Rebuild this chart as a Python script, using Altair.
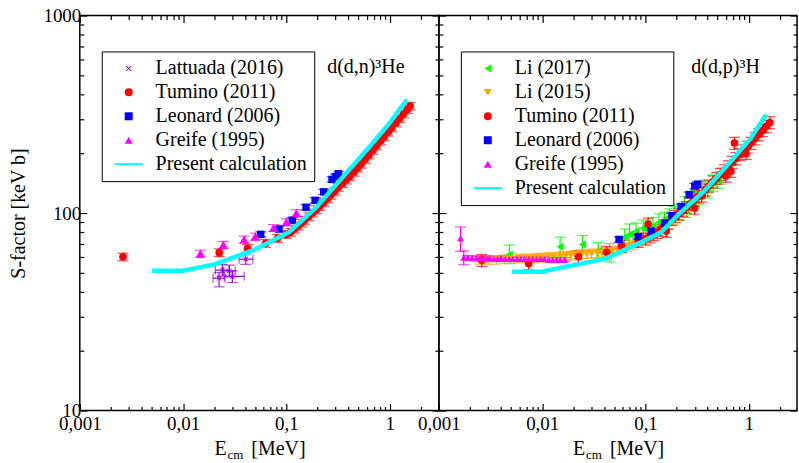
import altair as alt
import pandas as pd

# ---------------- Left panel: d(d,n)3He ----------------
lat_x = [0.0223, 0.024, 0.028, 0.030, 0.0405]
lat_y = [46.8, 51.4, 50.9, 47.8, 58.4]
lat_xlo = [0.0195, 0.0205, 0.0245, 0.0250, 0.0348]
lat_xhi = [0.0255, 0.0280, 0.0320, 0.0390, 0.0475]
lat_ylo = [42.3, 48.0, 47.5, 44.5, 55.0]
lat_yhi = [50.0, 55.0, 54.5, 51.0, 62.0]

tum_l_x = [0.00262, 0.0224, 0.042, 0.063, 0.082, 0.10, 0.11, 0.12, 0.13, 0.14, 0.15, 0.165, 0.18,
           0.195, 0.21, 0.23, 0.25, 0.27, 0.295, 0.32, 0.35, 0.38, 0.41, 0.45, 0.49, 0.53, 0.58,
           0.63, 0.69, 0.75, 0.82, 0.89, 0.97, 1.05, 1.15, 1.25, 1.36, 1.48, 1.58]
tum_l_y = [60, 63, 66.3, 70.3, 74.5, 78, 80, 83, 86, 89, 92, 96, 100,
           104, 108, 113, 118, 123, 129, 135, 141, 147, 153, 161, 169, 177, 187,
           197, 208, 219, 232, 244, 257, 270, 286, 301, 317, 334, 348]
tum_l_err = 0.045

leo_l_x = [0.0565, 0.085, 0.114, 0.155, 0.19, 0.23, 0.277, 0.30, 0.32]
leo_l_y = [78, 83, 92, 107, 116, 128, 148, 153, 158]
leo_l_err = 0.03

gre_l_x = [0.0147, 0.0245, 0.039, 0.05, 0.075, 0.1, 0.125]
gre_l_y = [62.3, 69, 73.5, 76, 84, 90, 100]
gre_l_err = 0.04

calc_l_x = [0.005, 0.01, 0.02, 0.047, 0.106, 0.192, 0.346, 0.626, 0.975, 1.47]
calc_l_y = [51, 51, 55, 64.5, 80, 106, 151, 214, 281, 375]

# ---------------- Right panel: d(d,p)3H ----------------
li17_x = [0.0048, 0.0149, 0.0245, 0.0349, 0.045, 0.063, 0.07, 0.081, 0.095, 0.118, 0.135, 0.153,
          0.17, 0.19, 0.21, 0.24, 0.25, 0.28, 0.30, 0.33, 0.37, 0.40, 0.45, 0.50, 0.54]
li17_y = [61.6, 67.6, 69.4, 64.4, 63, 75, 78, 81, 84, 86, 90, 92,
          96, 98.5, 101, 110, 104, 116, 119, 122, 134, 131, 142, 146, 154]
li17_ylo = [55.4, 60.5, 62, 58, 56.5, 68, 69, 73, 76, 78, 82, 84,
            87, 90, 92, 100, 95, 106, 108, 111, 122, 119, 129, 133, 140]
li17_yhi = [68.9, 75.5, 77, 71, 70, 83, 88, 89, 92, 95, 99, 101,
            105, 108, 110, 121, 114, 127, 130, 134, 147, 144, 156, 160, 169]

li15_x = [0.0025, 0.003, 0.0036, 0.0043, 0.005, 0.006, 0.007, 0.008, 0.009, 0.010,
          0.0115, 0.013, 0.015, 0.017, 0.019, 0.021, 0.024, 0.027, 0.030, 0.034,
          0.038, 0.043, 0.048, 0.054, 0.06, 0.067, 0.075, 0.084, 0.094, 0.105,
          0.118, 0.132, 0.148, 0.165, 0.185, 0.21, 0.235, 0.265, 0.3]
li15_y = [58, 58, 58, 58.5, 58.5, 59, 59, 59, 59.5, 59.5,
          60, 60, 60.5, 61, 61, 61.5, 62, 62, 62.5, 62.5,
          63, 63.5, 64, 65, 66, 67.5, 69, 71, 73, 75.5,
          78, 81, 84.5, 88, 92, 97, 102, 108, 115]
li15_err = 0.05

tum_r_x = [0.0026, 0.0074, 0.0224, 0.042, 0.0585, 0.085, 0.10, 0.106, 0.11, 0.12,
           0.13, 0.14, 0.15, 0.159, 0.165, 0.18, 0.195, 0.21, 0.23, 0.25,
           0.27, 0.295, 0.299, 0.32, 0.35, 0.38, 0.41, 0.45, 0.49, 0.53,
           0.58, 0.60, 0.63, 0.67, 0.69, 0.726, 0.75, 0.82, 0.89, 0.94,
           0.97, 1.05, 1.15, 1.25, 1.36, 1.48, 1.6]
tum_r_y = [57.7, 55.5, 60, 63.3, 68, 72, 74, 88, 76, 78,
           80, 82, 85, 81, 89, 93, 96, 99, 103, 107,
           111, 116, 106, 121, 122, 131, 137, 144, 150, 157,
           164, 154, 172, 163, 181, 226, 189, 198, 207, 201,
           216, 226, 238, 250, 262, 275, 287]
tum_r_err = 0.07

leo_r_x = [0.0555, 0.085, 0.114, 0.153, 0.18, 0.222, 0.265, 0.30, 0.32]
leo_r_y = [73.5, 76, 81, 89, 97, 108, 124, 137, 140]
leo_r_err = 0.03

gre_r_x = [0.00162, 0.00174, 0.0019, 0.0021, 0.0023, 0.0025, 0.0027, 0.0029, 0.0031, 0.0034,
           0.0037, 0.004, 0.0044, 0.0048, 0.0052, 0.0057, 0.0062, 0.0068, 0.0074, 0.0081,
           0.0088, 0.0096, 0.0105, 0.0115, 0.0126, 0.0138, 0.015, 0.0165]
gre_r_y = [74.5, 59.5, 59.5, 59, 59, 59, 58.5, 59, 59, 58.5,
           58.5, 59, 58.5, 58.5, 58.5, 58.5, 58.5, 58.5, 58.5, 58.5,
           58.5, 58.5, 58.5, 58, 58, 58, 58, 58]
gre_r_err = [0.14, 0.08] + [0.025] * 26

calc_r_x = [0.0051, 0.0099, 0.02, 0.04, 0.085, 0.142, 0.206, 0.37, 0.67, 1.05, 1.47]
calc_r_y = [50.5, 50.5, 54.5, 58.5, 70, 80, 98, 129, 183, 240, 315]

left_label = "d(d,n)³He"
right_label = "d(d,p)³H"
xtitle_parts = ["E", "cm", "[MeV]"]
ytitle = "S-factor [keV b]"

left_order = ["Lattuada (2016)", "Tumino (2011)", "Leonard (2006)", "Greife (1995)", "Present calculation"]
right_order = ["Li (2017)", "Li (2015)", "Tumino (2011)", "Leonard (2006)", "Greife (1995)", "Present calculation"]

# ---------------- styles ----------------
FONT = "Liberation Serif"
PURPLE, RED, BLUE, MAGENTA = "#9400d3", "#ff0000", "#0000ff", "#ff00ff"
GREEN, ORANGE, CYAN = "#00ff00", "#ffa500", "#00ffff"
X_PATH = ("M-0.7,-0.55L-0.55,-0.7L0,-0.15L0.55,-0.7L0.7,-0.55L0.15,0L0.7,0.55L0.55,0.7"
          "L0,0.15L-0.55,0.7L-0.7,0.55L-0.15,0Z")
LINE_PATH = "M-3.5,-0.25L3.5,-0.25L3.5,0.25L-3.5,0.25Z"

MAJ = "abs(log(datum.value)/LN10 - round(log(datum.value)/LN10)) < 0.001"
TICK = {"expr": f"({MAJ}) ? -7 : -4"}
XLAB = f"({MAJ}) ? replace(format(datum.value, '~g'), '.', ',') : ''"
YLAB = f"({MAJ}) ? format(datum.value, 'd') : ''"

xt_left = [m * 10.0 ** e for e in (-3, -2, -1) for m in range(1, 10)] + [1.0, 2.0]
xt_right = list(xt_left)
yt = [m * 10.0 ** e for e in (1, 2) for m in range(1, 10)] + [1000.0]

H = 396


def frame(name, xs, ys, rel=None, lo=None, hi=None):
    if rel is not None:
        rels = rel if isinstance(rel, list) else [rel] * len(xs)
        lo = [y * (1 - r) for y, r in zip(ys, rels)]
        hi = [y * (1 + r) for y, r in zip(ys, rels)]
    return pd.DataFrame({"series": name, "x": xs, "y": ys, "ylo": lo, "yhi": hi})


def build_panel(frames, order, colors, shapes, sizes, calc_x, calc_y, xmax, width,
                label_text, label_x, show_y, xt, xerr=None):
    xs = alt.Scale(type="log", domain=[0.001, xmax], nice=False)
    ys = alt.Scale(type="log", domain=[10, 1000], nice=False)
    cs = alt.Scale(domain=order, range=colors)
    ss = alt.Scale(domain=order, range=shapes)
    cmap = dict(zip(order, colors))

    layers = []
    for f in frames:
        c = cmap[f["series"].iloc[0]]
        layers.append(alt.Chart(f).mark_rule(strokeWidth=1.2, color=c).encode(
            x=alt.X("x:Q", scale=xs, axis=None), y=alt.Y("ylo:Q", scale=ys, axis=None),
            y2="yhi:Q"))
        layers.append(alt.Chart(f).transform_fold(["ylo", "yhi"], as_=["k", "yv"]).mark_tick(
            orient="horizontal", size=11, thickness=1.2, color=c).encode(
            x=alt.X("x:Q", scale=xs, axis=None), y=alt.Y("yv:Q", scale=ys, axis=None)))
    if xerr is not None:
        c = cmap[xerr["series"].iloc[0]]
        layers.append(alt.Chart(xerr).mark_rule(strokeWidth=1.2, color=c).encode(
            x=alt.X("xlo:Q", scale=xs, axis=None), x2="xhi:Q",
            y=alt.Y("y:Q", scale=ys, axis=None)))
        layers.append(alt.Chart(xerr).transform_fold(["xlo", "xhi"], as_=["k", "xv"]).mark_tick(
            orient="vertical", size=9, thickness=1.2, color=c).encode(
            x=alt.X("xv:Q", scale=xs, axis=None), y=alt.Y("y:Q", scale=ys, axis=None)))

    leg = alt.Legend(orient="none", legendX=22, legendY=36, title=None)
    ax_bottom = alt.Axis(orient="bottom", values=xt, labelExpr=XLAB, tickSize=TICK,
                         labelPadding=11, title=None)
    ax_top = alt.Axis(orient="top", values=xt, labels=False, tickSize=TICK, title=None)
    ax_left = alt.Axis(orient="left", values=yt, labelExpr=YLAB, labels=show_y, tickSize=TICK,
                       labelPadding=6, title=ytitle if show_y else None, titlePadding=14)
    ax_right = alt.Axis(orient="right", values=yt, labels=False, tickSize=TICK, title=None)

    for i, f in enumerate(frames):
        name = f["series"].iloc[0]
        first = i == 0
        layers.append(alt.Chart(f).mark_point(filled=True, opacity=1, size=sizes[name]).encode(
            x=alt.X("x:Q", scale=xs, axis=ax_bottom if first else None),
            y=alt.Y("y:Q", scale=ys, axis=ax_left if first else None),
            color=alt.Color("series:N", scale=cs, legend=leg),
            shape=alt.Shape("series:N", scale=ss, legend=leg)))

    calc_df = pd.DataFrame({"x": calc_x, "y": calc_y})
    layers.append(alt.Chart(calc_df).mark_line(color=CYAN, strokeWidth=4.5).encode(
        x=alt.X("x:Q", scale=xs, axis=ax_top), y=alt.Y("y:Q", scale=ys, axis=ax_right)))

    layers.append(alt.Chart(pd.DataFrame({"t": [label_text]})).mark_text(
        align="left", baseline="alphabetic", font=FONT, fontSize=20, color="black").encode(
        text="t:N", x=alt.value(label_x), y=alt.value(58)))
    xt_df = pd.DataFrame({"t": xtitle_parts})
    offs = [-45, -32, -8]
    fsz = [20, 13, 20]
    base = [441, 445, 441]
    for j in range(3):
        layers.append(alt.Chart(xt_df).transform_filter(f"datum.t == '{xtitle_parts[j]}'").mark_text(
            align="left", baseline="alphabetic", font=FONT, fontSize=fsz[j], color="black").encode(
            text="t:N", x=alt.value(width / 2 + offs[j]), y=alt.value(base[j])))

    return alt.layer(*layers).resolve_axis(x="independent", y="independent").properties(
        width=width, height=H)


lat_df = frame(left_order[0], lat_x, lat_y, lo=lat_ylo, hi=lat_yhi)
lat_xerr = pd.DataFrame({"series": left_order[0], "y": lat_y, "xlo": lat_xlo, "xhi": lat_xhi})
left_frames = [
    lat_df,
    frame("Tumino (2011)", tum_l_x, tum_l_y, rel=tum_l_err),
    frame("Leonard (2006)", leo_l_x, leo_l_y, rel=leo_l_err),
    frame("Greife (1995)", gre_l_x, gre_l_y, rel=gre_l_err),
]
right_frames = [
    frame("Li (2017)", li17_x, li17_y, lo=li17_ylo, hi=li17_yhi),
    frame("Li (2015)", li15_x, li15_y, rel=li15_err),
    frame("Tumino (2011)", tum_r_x, tum_r_y, rel=tum_r_err),
    frame("Leonard (2006)", leo_r_x, leo_r_y, rel=leo_r_err),
    frame("Greife (1995)", gre_r_x, gre_r_y, rel=gre_r_err),
]

left = build_panel(
    left_frames, left_order, [PURPLE, RED, BLUE, MAGENTA, CYAN],
    [X_PATH, "circle", "square", "triangle-up", LINE_PATH],
    {"Lattuada (2016)": 55, "Tumino (2011)": 60, "Leonard (2006)": 56, "Greife (1995)": 90},
    calc_l_x, calc_l_y, 3.0, 360, left_label, 248, True, xt_left, xerr=lat_xerr)

right = build_panel(
    right_frames, right_order, [GREEN, ORANGE, RED, BLUE, MAGENTA, CYAN],
    ["triangle-left", "triangle-down", "circle", "square", "triangle-up", LINE_PATH],
    {"Li (2017)": 70, "Li (2015)": 64, "Tumino (2011)": 60, "Leonard (2006)": 56, "Greife (1995)": 50},
    calc_r_x, calc_r_y, 2.93, 359, right_label, 253, False, xt_right)

chart = alt.hconcat(left, right, spacing=0, bounds="flush").resolve_scale(
    color="independent", shape="independent"
).properties(
    padding={"left": 8, "top": 5, "right": 0, "bottom": 0}
).configure_view(
    stroke="black", strokeWidth=1.5
).configure_axis(
    labelFont=FONT, labelFontSize=19, labelColor="black", titleFont=FONT, titleFontSize=20,
    titleFontWeight="normal", titleColor="black", tickColor="black", tickWidth=1.2,
    domain=False, grid=False, labelFlush=False, labelOverlap=False, labelBound=False
).configure_legend(
    labelFont=FONT, labelFontSize=20, labelColor="black", symbolSize=64, symbolStrokeWidth=0,
    padding=7, rowPadding=4, strokeColor="black", fillColor="white", symbolOffset=10,
    labelOffset=17, labelLimit=400, cornerRadius=0
)

chart.save("out.html", embed_options={"renderer": "svg", "actions": False})
